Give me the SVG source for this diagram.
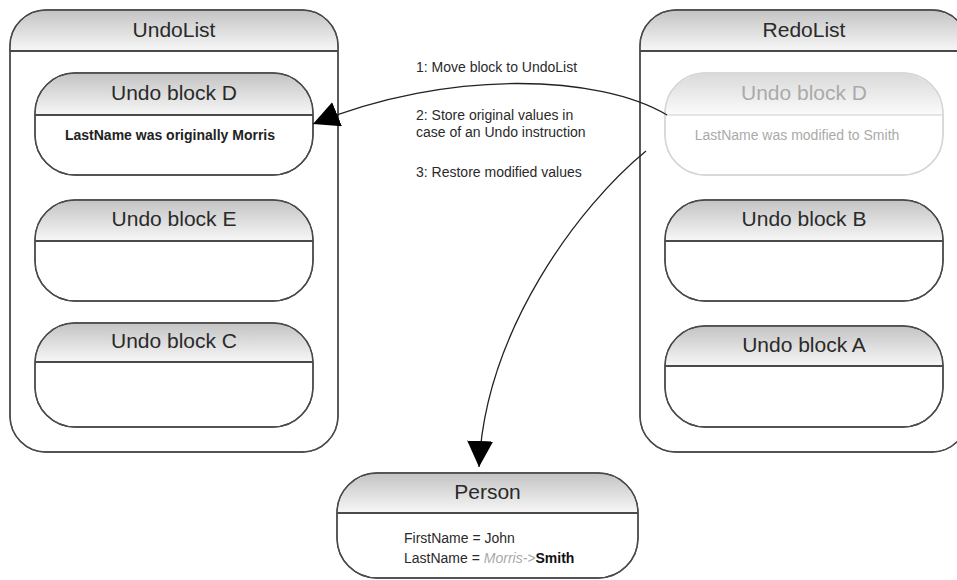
<svg xmlns="http://www.w3.org/2000/svg" width="957" height="580" viewBox="0 0 957 580">
<style>
.box{fill:#fff;stroke:#4a4a4a;stroke-width:1.4}
.hdr{fill:url(#g);stroke:none}
.div{stroke:#4a4a4a;stroke-width:2}
.fbox{fill:#fff;stroke:#d6d6d6;stroke-width:1.4}
.fhdr{fill:url(#gf);stroke:none}
.fdiv{stroke:#dcdcdc;stroke-width:1.6}
.t{font-family:"Liberation Sans",Arial,sans-serif;font-size:21px;fill:#2a2a2a;text-anchor:middle}
.ft{font-family:"Liberation Sans",Arial,sans-serif;font-size:21px;fill:#aaa;text-anchor:middle}
.s{font-family:"Liberation Sans",Arial,sans-serif;font-size:14px;fill:#222}
.lbl{font-family:"Liberation Sans",Arial,sans-serif;font-size:14px;fill:#2a2a2a}
.con{fill:none;stroke:#222;stroke-width:1.3}
</style>
<defs>
<linearGradient id="g" x1="0" y1="0" x2="0" y2="1"><stop offset="0" stop-color="#c4c4c4"/><stop offset="1" stop-color="#f7f7f7"/></linearGradient>
<linearGradient id="gf" x1="0" y1="0" x2="0" y2="1"><stop offset="0" stop-color="#dadada"/><stop offset="1" stop-color="#fbfbfb"/></linearGradient>
<marker id="ah" markerUnits="userSpaceOnUse" markerWidth="28" markerHeight="28" refX="26" refY="13" orient="auto"><path d="M0,0 L26,13 L0,26 Z" fill="#000"/></marker>
</defs>

<g id="UndoList">
<rect class="box" x="10" y="10" width="328" height="442" rx="36" ry="36"/>
<path class="hdr" d="M10.7,51 V46 A35.3,35.3 0 0 1 46,10.7 H302 A35.3,35.3 0 0 1 337.3,46 V51 Z"/>
<rect x="10" y="10" width="328" height="442" rx="36" ry="36" fill="none" stroke="#4a4a4a" stroke-width="1.4"/>
<line class="div" x1="10" y1="51" x2="338" y2="51"/>
<text class="t" x="174" y="37">UndoList</text>
</g>

<g id="RedoList">
<rect class="box" x="640" y="10" width="328" height="442" rx="36" ry="36"/>
<path class="hdr" d="M640.7,51 V46 A35.3,35.3 0 0 1 676,10.7 H932 A35.3,35.3 0 0 1 967.3,46 V51 Z"/>
<rect x="640" y="10" width="328" height="442" rx="36" ry="36" fill="none" stroke="#4a4a4a" stroke-width="1.4"/>
<line class="div" x1="640" y1="51" x2="968" y2="51"/>
<text class="t" x="804" y="37">RedoList</text>
</g>

<g id="UndoBlockD">
<rect class="box" x="35" y="73" width="278" height="102" rx="40" ry="40"/>
<path class="hdr" d="M35.7,115 V113 A39.3,39.3 0 0 1 75,73.7 H273 A39.3,39.3 0 0 1 312.3,113 V115 Z"/>
<rect x="35" y="73" width="278" height="102" rx="40" ry="40" fill="none" stroke="#4a4a4a" stroke-width="1.4"/>
<line class="div" x1="35" y1="115" x2="313" y2="115"/>
<text class="t" x="174" y="100">Undo block D</text>
<text class="s" x="170" y="140" text-anchor="middle" font-weight="bold">LastName was originally Morris</text>
</g>

<g id="UndoBlockE">
<rect class="box" x="35" y="200" width="278" height="101" rx="40" ry="40"/>
<path class="hdr" d="M35.7,241 V240 A39.3,39.3 0 0 1 75,200.7 H273 A39.3,39.3 0 0 1 312.3,240 V241 Z"/>
<rect x="35" y="200" width="278" height="101" rx="40" ry="40" fill="none" stroke="#4a4a4a" stroke-width="1.4"/>
<line class="div" x1="35" y1="241" x2="313" y2="241"/>
<text class="t" x="174" y="226">Undo block E</text>
</g>

<g id="UndoBlockC">
<rect class="box" x="35" y="323" width="278" height="104" rx="40" ry="40"/>
<path class="hdr" d="M35.7,362 A39.3,39.3 0 0 1 75,323.7 H273 A39.3,39.3 0 0 1 312.3,362 Z"/>
<rect x="35" y="323" width="278" height="104" rx="40" ry="40" fill="none" stroke="#4a4a4a" stroke-width="1.4"/>
<line class="div" x1="35" y1="362" x2="313" y2="362"/>
<text class="t" x="174" y="348">Undo block C</text>
</g>

<g id="RedoBlockD">
<rect class="fbox" x="665" y="73" width="278" height="102" rx="40" ry="40"/>
<path class="fhdr" d="M665.7,115 V113 A39.3,39.3 0 0 1 705,73.7 H903 A39.3,39.3 0 0 1 942.3,113 V115 Z"/>
<rect x="665" y="73" width="278" height="102" rx="40" ry="40" fill="none" stroke="#d6d6d6" stroke-width="1.4"/>
<line class="fdiv" x1="665" y1="115" x2="943" y2="115"/>
<text class="ft" x="804" y="100">Undo block D</text>
<text class="s" x="797" y="140" text-anchor="middle" style="fill:#aaa">LastName was modified to Smith</text>
</g>

<g id="UndoBlockB">
<rect class="box" x="665" y="200" width="278" height="101" rx="40" ry="40"/>
<path class="hdr" d="M665.7,241 V240 A39.3,39.3 0 0 1 705,200.7 H903 A39.3,39.3 0 0 1 942.3,240 V241 Z"/>
<rect x="665" y="200" width="278" height="101" rx="40" ry="40" fill="none" stroke="#4a4a4a" stroke-width="1.4"/>
<line class="div" x1="665" y1="241" x2="943" y2="241"/>
<text class="t" x="804" y="226">Undo block B</text>
</g>

<g id="UndoBlockA">
<rect class="box" x="665" y="326" width="278" height="101" rx="40" ry="40"/>
<path class="hdr" d="M665.7,366 V365 A39.3,39.3 0 0 1 705,326.7 H903 A39.3,39.3 0 0 1 942.3,365 V366 Z"/>
<rect x="665" y="326" width="278" height="101" rx="40" ry="40" fill="none" stroke="#4a4a4a" stroke-width="1.4"/>
<line class="div" x1="665" y1="366" x2="943" y2="366"/>
<text class="t" x="804" y="352">Undo block A</text>
</g>

<g id="Person">
<rect class="box" x="337" y="473" width="301" height="105" rx="40" ry="40"/>
<path class="hdr" d="M337.7,513 A39.3,39.3 0 0 1 377,473.7 H598 A39.3,39.3 0 0 1 637.3,513 Z"/>
<rect x="337" y="473" width="301" height="105" rx="40" ry="40" fill="none" stroke="#4a4a4a" stroke-width="1.4"/>
<line class="div" x1="337" y1="513" x2="638" y2="513"/>
<text class="t" x="487.5" y="499">Person</text>
<text class="lbl" x="404" y="543">FirstName = John</text>
<text class="lbl" x="404" y="563">LastName = <tspan font-style="italic" fill="#aaa">Morris-&gt;</tspan><tspan font-weight="bold" fill="#111">Smith</tspan></text>
</g>

<g id="connectors">
<path class="con" d="M667,115 C600,75 450,68 313,124" marker-end="url(#ah)"/>
<path class="con" d="M646,151 C580,205 485,330 479,467" marker-end="url(#ah)"/>
<text class="lbl" x="416" y="72">1: Move block to UndoList</text>
<text class="lbl" x="416" y="120">2: Store original values in</text>
<text class="lbl" x="416" y="137">case of an Undo instruction</text>
<text class="lbl" x="416" y="177">3: Restore modified values</text>
</g>
</svg>
